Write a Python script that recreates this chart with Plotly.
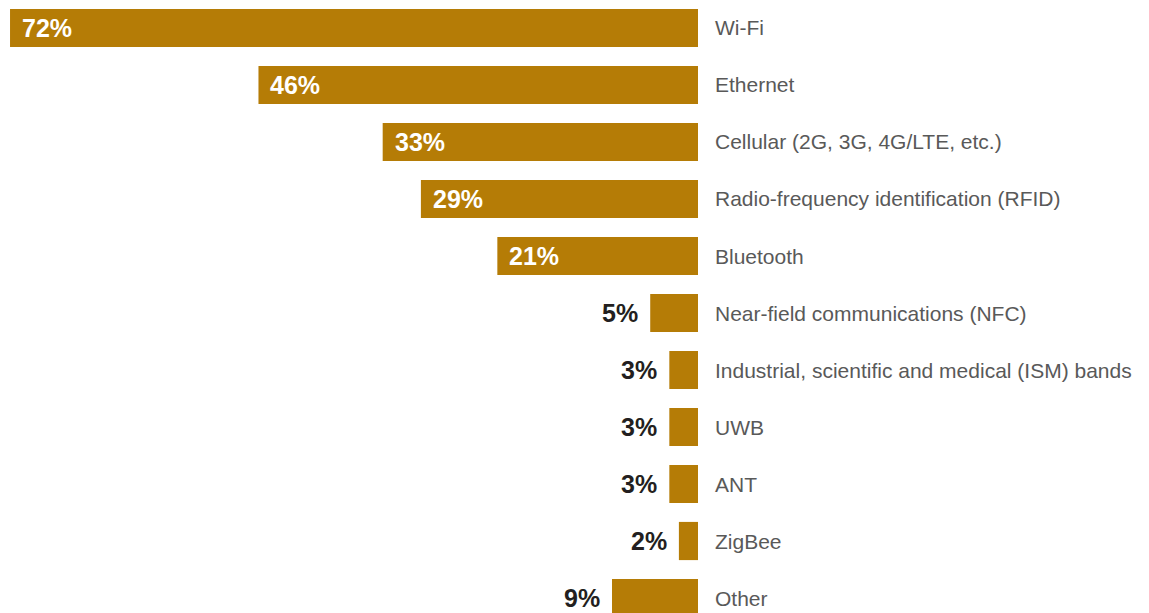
import plotly.graph_objects as go

# Connectivity technologies and share of respondents (%)
categories = [
    "Wi-Fi",
    "Ethernet",
    "Cellular (2G, 3G, 4G/LTE, etc.)",
    "Radio-frequency identification (RFID)",
    "Bluetooth",
    "Near-field communications (NFC)",
    "Industrial, scientific and medical (ISM) bands",
    "UWB",
    "ANT",
    "ZigBee",
    "Other",
]
values = [72, 46, 33, 29, 21, 5, 3, 3, 3, 2, 9]
value_labels = ["72%", "46%", "33%", "29%", "21%", "5%", "3%", "3%", "3%", "2%", "9%"]

BAR_COLOR = "#B57C06"
CAT_COLOR = "#595959"
DARK = "#231F20"
INSIDE_MIN = 15  # bars at least this long carry their label inside
FONT = "Liberation Sans, Arial, sans-serif"

fig = go.Figure(
    go.Bar(
        x=values,
        y=categories,
        orientation="h",
        marker=dict(color=BAR_COLOR, line=dict(width=0)),
        width=0.67,
        hoverinfo="skip",
    )
)

annotations = []
for cat, v, lab in zip(categories, values, value_labels):
    # category name to the right of the bar baseline
    annotations.append(dict(
        x=1, xref="paper", y=cat, yref="y",
        text=cat, showarrow=False, xanchor="left", yanchor="middle",
        xshift=15, font=dict(family=FONT, size=21, color=CAT_COLOR),
    ))
    if v >= INSIDE_MIN:
        annotations.append(dict(
            x=v, xref="x", y=cat, yref="y",
            text=f"<b>{lab}</b>", showarrow=False, xanchor="left", yanchor="middle",
            xshift=10, font=dict(family=FONT, size=25, color="white"),
        ))
    else:
        annotations.append(dict(
            x=v, xref="x", y=cat, yref="y",
            text=f"<b>{lab}</b>", showarrow=False, xanchor="right", yanchor="middle",
            xshift=-10, font=dict(family=FONT, size=25, color=DARK),
        ))

fig.update_layout(
    width=1149,
    height=613,
    margin=dict(l=0, r=451, t=0, b=0),
    paper_bgcolor="white",
    plot_bgcolor="white",
    showlegend=False,
    xaxis=dict(range=[73.05, 0], visible=False, fixedrange=True),
    yaxis=dict(
        type="category",
        categoryorder="array",
        categoryarray=categories,
        range=[10.263, -0.491],
        visible=False,
        fixedrange=True,
    ),
    annotations=annotations,
)

fig.write_html("out.html")
